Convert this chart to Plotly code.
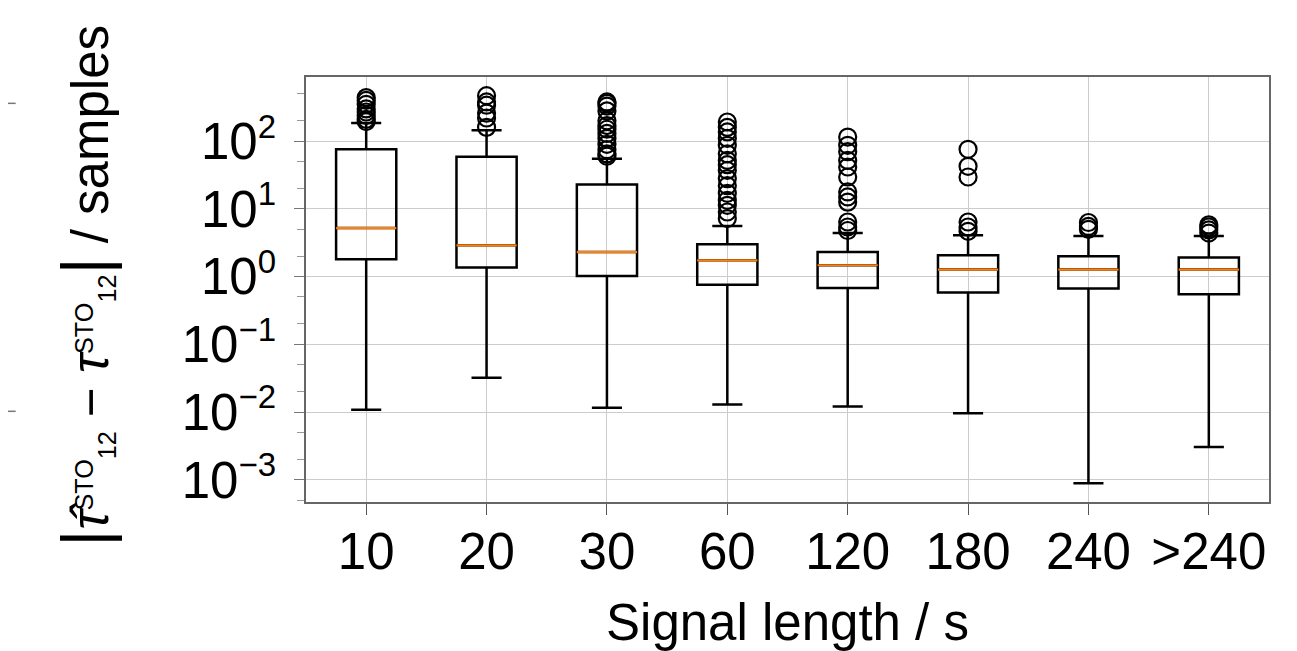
import plotly.graph_objects as go

categories = ["10", "20", "30", "60", "120", "180", "240", ">240"]
q1 = [1.80, 1.36, 1.02, 0.76, 0.68, 0.58, 0.665, 0.55]
median = [5.2, 2.9, 2.3, 1.74, 1.47, 1.27, 1.27, 1.27]
q3 = [76, 59, 23, 3.0, 2.3, 2.06, 2.0, 1.91]
whisker_low = [0.0108, 0.0322, 0.0116, 0.0129, 0.0121, 0.0096, 0.00089, 0.00304]
whisker_high = [186, 145, 55, 5.6, 4.4, 4.07, 3.98, 3.98]

outliers_10 = [195, 210, 240, 270, 300, 350, 400, 440]
outliers_20 = [160, 220, 260, 340, 380, 470]
outliers_30 = [60, 65, 75, 90, 110, 130, 150, 170, 200, 280, 330, 360, 380]
outliers_60 = [7.2, 9, 11.3, 13.4, 17, 22, 28, 37, 45, 52, 65, 87, 110, 137, 160, 192]
outliers_120 = [4.8, 5.4, 6.4, 12.6, 15, 17.8, 29.6, 41.6, 52, 70, 87, 115]
outliers_180 = [4.67, 5.4, 6.4, 29.6, 42.6, 75.9]
outliers_240 = [5.0, 5.5, 6.3]
outliers_gt240 = [4.4, 4.9, 5.4, 5.8]
outliers = [outliers_10, outliers_20, outliers_30, outliers_60,
            outliers_120, outliers_180, outliers_240, outliers_gt240]

y_tickvals = [1e-3, 1e-2, 1e-1, 1e0, 1e1, 1e2]
y_exponents = ["−3", "−2", "−1", "0", "1", "2"]
y_ticktext = ["10<sup><span style='font-size:33px'>%s</span></sup>" % e for e in y_exponents]

x_title = "Signal length / s"
y_title = ("<span style='font-size:66px'>|</span><i>τ̂</i>"
           "<span style='font-size:36px'><sup>STO</sup><sub>12</sub></span>"
           " − <i>τ</i><span style='font-size:36px'><sup>STO</sup><sub>12</sub></span>"
           "<span style='font-size:66px'>|</span> / samples")

FONT = "Liberation Sans, Arial, Helvetica, sans-serif"
FS = 51

fig = go.Figure()

fig.add_trace(go.Box(
    x=categories, q1=q1, median=median, q3=q3,
    lowerfence=whisker_low, upperfence=whisker_high,
    width=0.5, whiskerwidth=0.5,
    line=dict(color="black", width=2.5),
    fillcolor="rgba(0,0,0,0)",
    boxpoints=False, hoverinfo="skip", showlegend=False,
))

# median lines in orange
fig.add_trace(go.Box(
    x=categories, q1=median, median=median, q3=median,
    lowerfence=median, upperfence=median,
    width=0.5, whiskerwidth=0,
    line=dict(color="#ff7f0e", width=2.2),
    fillcolor="rgba(0,0,0,0)",
    boxpoints=False, hoverinfo="skip", showlegend=False,
))

ox, oy = [], []
for c, vals in zip(categories, outliers):
    ox.extend([c] * len(vals))
    oy.extend(vals)

fig.add_trace(go.Scatter(
    x=ox, y=oy, mode="markers",
    marker=dict(symbol="circle-open", size=17, color="black",
                line=dict(width=2.2, color="black")),
    hoverinfo="skip", showlegend=False,
))

fig.update_layout(
    width=1289, height=643,
    margin=dict(l=297.5, r=27.75, t=69, b=149.3),
    paper_bgcolor="white", plot_bgcolor="white",
    boxmode="overlay",
    font=dict(family=FONT, size=FS, color="black"),
    showlegend=False,
)

fig.update_xaxes(
    type="category", categoryorder="array", categoryarray=categories,
    range=[-0.5, 7.5], automargin=False,
    showgrid=True, gridcolor="#cccccc", gridwidth=1.3,
    showline=True, linecolor="#666666", linewidth=1.5, mirror=True,
    ticks="outside", ticklen=11, tickwidth=1, tickcolor="#555555",
    tickfont=dict(size=FS), ticklabelstandoff=-7,
    title=dict(text=x_title, font=dict(size=FS), standoff=30),
    zeroline=False,
)

fig.update_yaxes(
    type="log", range=[-3.329, 2.948], automargin=False,
    tickvals=y_tickvals, ticktext=y_ticktext,
    showgrid=True, gridcolor="#cccccc", gridwidth=1.3,
    showline=True, linecolor="#666666", linewidth=1.5, mirror=True,
    ticks="outside", ticklen=10, tickwidth=1, tickcolor="#777777",
    tickfont=dict(size=FS), ticklabelstandoff=8,
    minor=dict(ticks="outside", ticklen=7, tickwidth=1, tickcolor="#999999",
               showgrid=False),
    zeroline=False,
)

fig.add_annotation(
    text=y_title, textangle=-90,
    xref="paper", yref="paper", x=-0.229, y=0.51,
    xanchor="center", yanchor="middle", showarrow=False,
    font=dict(size=FS, family=FONT, color="black"),
)

# small grey marks at far left
for yp in [0.938, 0.2134]:
    fig.add_shape(type="line", xref="paper", yref="paper",
                  x0=-0.33, x1=-0.3015, y0=yp, y1=yp,
                  line=dict(color="#777777", width=1.5))

fig.write_html("out.html")
